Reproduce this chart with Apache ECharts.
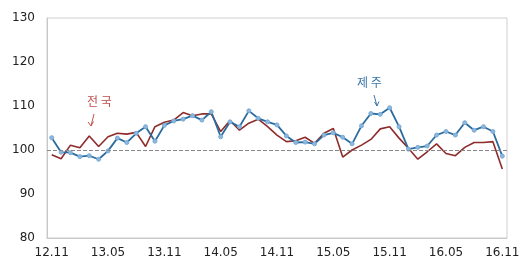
<!DOCTYPE html>
<html><head><meta charset="utf-8">
<script src="https://cdn.jsdelivr.net/npm/echarts@6/dist/echarts.min.js"></script>
<style>html,body{margin:0;padding:0;background:#fff}#c{width:531px;height:270px}</style>
</head><body><div id="c"></div>
<script>
const months = [];
for (let y = 12, m = 11; months.length < 49; ) {
  months.push(String(y).padStart(2,'0') + '.' + String(m).padStart(2,'0'));
  m++; if (m > 12) { m = 1; y++; }
}
const jeju = [102.8,99.5,99.4,98.5,98.7,97.9,99.8,102.7,101.7,103.8,105.3,102.0,105.6,106.6,107.0,107.8,106.8,108.7,103.0,106.4,105.3,108.9,107.2,106.4,105.7,103.2,101.7,101.8,101.4,103.4,103.9,102.9,101.4,105.5,108.3,108.1,109.6,105.3,100.2,100.6,100.9,103.4,104.2,103.4,106.2,104.5,105.3,104.2,98.6];
const national = [98.9,98.0,101.1,100.5,103.2,100.8,103.0,103.8,103.6,104.0,100.8,105.3,106.3,106.8,108.5,107.8,108.2,108.2,104.2,106.7,104.5,106.1,107.0,105.3,103.4,101.9,102.1,102.9,101.5,103.8,104.9,98.4,100.0,101.1,102.4,104.8,105.3,102.7,100.4,97.9,99.6,101.4,99.2,98.7,100.6,101.7,101.7,101.9,95.7];
const yTicks = [80,90,100,110,120,130];
const labelNational = '전 국';
const labelJeju = '제 주';

const chart = echarts.init(document.getElementById('c'));
const font = '"Noto Sans CJK KR","Noto Sans",sans-serif';
chart.setOption({
  animation: false,
  grid: {left: 47, top: 18, right: 24, bottom: 32, show: true, borderColor: '#cfcfcf', borderWidth: 1},
  xAxis: {
    type: 'category', data: months, boundaryGap: true,
    axisLine: {lineStyle: {color: '#c8c8c8'}}, axisTick: {show: false},
    axisLabel: {interval: 5, color: '#222', fontSize: 12, fontFamily: 'DejaVu Sans', margin: 9,
      showMaxLabel: true}
  },
  yAxis: {
    type: 'value', min: yTicks[0], max: yTicks[yTicks.length-1], interval: 10,
    axisLine: {show: true, lineStyle: {color: '#c8c8c8'}}, axisTick: {show: false},
    splitLine: {show: false},
    axisLabel: {color: '#222', fontSize: 12, fontFamily: 'DejaVu Sans', margin: 12}
  },
  series: [
    {name: '전국', type: 'line', data: national, symbol: 'none',
     lineStyle: {color: '#8e2b2b', width: 1.6}, z: 2,
     markLine: {silent: true, symbol: 'none', label: {show: false},
       lineStyle: {color: '#888', type: 'dashed', width: 1},
       data: [{yAxis: 100}]}},
    {name: '제주', type: 'line', data: jeju, symbol: 'circle', symbolSize: 4,
     itemStyle: {color: '#8bb8df', borderColor: '#7aaad4', borderWidth: 1},
     lineStyle: {color: '#2b6c9f', width: 1.8}, z: 3}
  ],
  graphic: [
    {type: 'text', left: 87, top: 95, style: {text: labelNational, fill: '#c0504d', font: '12px ' + font}},
    {type: 'line', shape: {x1: 94, y1: 114, x2: 91, y2: 126}, style: {stroke: '#c0504d', lineWidth: 1}},
    {type: 'polyline', shape: {points: [[88, 122], [91, 126], [93.5, 121.5]]}, style: {stroke: '#c0504d', lineWidth: 1, fill: null}},
    {type: 'text', left: 357, top: 76, style: {text: labelJeju, fill: '#3d78a8', font: '12px ' + font}},
    {type: 'line', shape: {x1: 374, y1: 95, x2: 377, y2: 106}, style: {stroke: '#3d78a8', lineWidth: 1}},
    {type: 'polyline', shape: {points: [[374.5, 102], [377, 106], [379, 101.5]]}, style: {stroke: '#3d78a8', lineWidth: 1, fill: null}}
  ]
});
</script></body></html>
